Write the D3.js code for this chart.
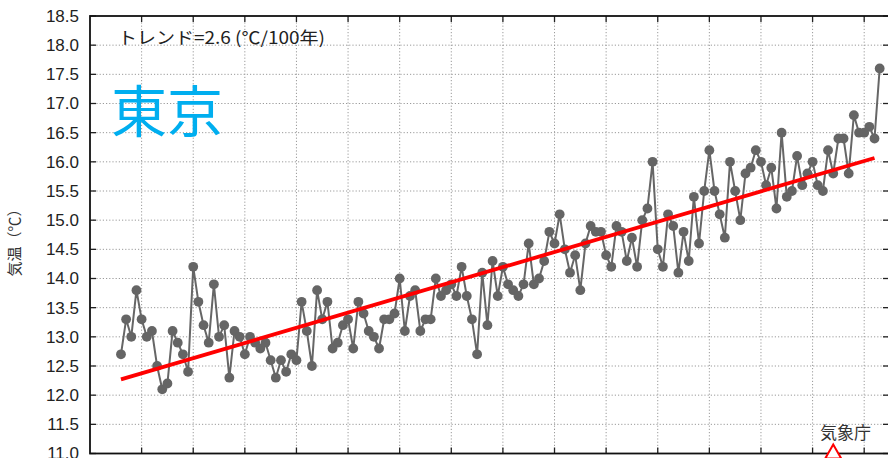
<!DOCTYPE html>
<html>
<head>
<meta charset="utf-8">
<script src="https://cdn.jsdelivr.net/npm/d3@7"></script>
<style>
  html, body { margin: 0; padding: 0; background: #fff; overflow: hidden; }
  svg { display: block; }
</style>
</head>
<body>
<svg id="chart" width="888" height="458"></svg>
<script>
// Tokyo annual mean temperature (°C), one value per year starting at firstYear
const firstYear = 1876;
const temps = [
  12.7, 13.3, 13.0, 13.8, 13.3, 13.0, 13.1, 12.5, 12.1, 12.2, // 1876-1885
  13.1, 12.9, 12.7, 12.4, 14.2, 13.6, 13.2, 12.9, 13.9, 13.0, // 1886-1895
  13.2, 12.3, 13.1, 13.0, 12.7, 13.0, 12.9, 12.8, 12.9, 12.6, // 1896-1905
  12.3, 12.6, 12.4, 12.7, 12.6, 13.6, 13.1, 12.5, 13.8, 13.3, // 1906-1915
  13.6, 12.8, 12.9, 13.2, 13.3, 12.8, 13.6, 13.4, 13.1, 13.0, // 1916-1925
  12.8, 13.3, 13.3, 13.4, 14.0, 13.1, 13.7, 13.8, 13.1, 13.3, // 1926-1935
  13.3, 14.0, 13.7, 13.8, 13.9, 13.7, 14.2, 13.7, 13.3, 12.7, // 1936-1945
  14.1, 13.2, 14.3, 13.7, 14.2, 13.9, 13.8, 13.7, 13.9, 14.6, // 1946-1955
  13.9, 14.0, 14.3, 14.8, 14.6, 15.1, 14.5, 14.1, 14.4, 13.8, // 1956-1965
  14.6, 14.9, 14.8, 14.8, 14.4, 14.2, 14.9, 14.8, 14.3, 14.7, // 1966-1975
  14.2, 15.0, 15.2, 16.0, 14.5, 14.2, 15.1, 14.9, 14.1, 14.8, // 1976-1985
  14.3, 15.4, 14.6, 15.5, 16.2, 15.5, 15.1, 14.7, 16.0, 15.5, // 1986-1995
  15.0, 15.8, 15.9, 16.2, 16.0, 15.6, 15.9, 15.2, 16.5, 15.4, // 1996-2005
  15.5, 16.1, 15.6, 15.8, 16.0, 15.6, 15.5, 16.2, 15.8, 16.4, // 2006-2015
  16.4, 15.8, 16.8, 16.5, 16.5, 16.6, 16.4, 17.6              // 2016-2023
];

// Axis ticks
const yTicks = [11.0, 11.5, 12.0, 12.5, 13.0, 13.5, 14.0, 14.5, 15.0, 15.5, 16.0, 16.5, 17.0, 17.5, 18.0, 18.5];
const gridYears = [1880, 1890, 1900, 1910, 1920, 1930, 1940, 1950, 1960, 1970, 1980, 1990, 2000, 2010, 2020];

// Long-term trend: rate per 100 years, fitted value at the first year, span of the fit
const trendRate = 2.6;
const trendStartValue = 12.27;
const trendSpan = [1876, 2022];

// Year the observing site was moved
const relocationYear = 2014;

const stationName = "東京";
const trendLabel = "トレンド=2.6 (℃/100年)";
const yTitle = "気温（℃）";
const sourceLabel = "気象庁";

const series = temps.map((t, i) => ({ year: firstYear + i, value: t }));

const svg = d3.select("#chart");

const x = d3.scaleLinear().domain([1870, 2025]).range([90, 890]);
const y = d3.scaleLinear().domain([11.0, 18.5]).range([453.5, 16]);

const [x0, x1] = x.range();
const [yb, yt] = y.range();

// Dotted grid
const grid = svg.append("g")
  .attr("stroke", "#9a9a9a")
  .attr("stroke-width", 1)
  .attr("stroke-dasharray", "1.2 2");
grid.selectAll("line.h")
  .data(yTicks.filter(v => v > 11.0 && v < 18.5))
  .join("line")
  .attr("class", "h")
  .attr("x1", x0).attr("x2", x1)
  .attr("y1", d => y(d)).attr("y2", d => y(d));
grid.selectAll("line.v")
  .data(gridYears)
  .join("line")
  .attr("class", "v")
  .attr("y1", yt).attr("y2", yb)
  .attr("x1", d => x(d)).attr("x2", d => x(d));

// Y tick labels
const yAxis = svg.append("g")
  .attr("transform", `translate(${x0},0)`)
  .call(d3.axisLeft(y).tickValues(yTicks).tickFormat(d3.format(".1f")).tickSize(0).tickPadding(11));
yAxis.select(".domain").remove();
yAxis.selectAll("text")
  .attr("font-family", "'Liberation Sans', Arial, sans-serif")
  .attr("font-size", 17)
  .attr("fill", "#222");

// Inward tick marks on all four sides
const ticks = svg.append("g").attr("stroke", "#222").attr("stroke-width", 1.3);
ticks.selectAll("line.l").data(yTicks).join("line").attr("class", "l")
  .attr("x1", x0).attr("x2", x0 + 6).attr("y1", d => y(d)).attr("y2", d => y(d));
ticks.selectAll("line.r").data(yTicks).join("line").attr("class", "r")
  .attr("x1", x1 - 7).attr("x2", x1).attr("y1", d => y(d)).attr("y2", d => y(d));
ticks.selectAll("line.b").data(gridYears).join("line").attr("class", "b")
  .attr("x1", d => x(d)).attr("x2", d => x(d)).attr("y1", yb).attr("y2", yb - 6);
ticks.selectAll("line.t").data(gridYears).join("line").attr("class", "t")
  .attr("x1", d => x(d)).attr("x2", d => x(d)).attr("y1", yt).attr("y2", yt + 6);

// Plot frame
svg.append("rect")
  .attr("x", x0).attr("y", yt)
  .attr("width", x1 - x0).attr("height", yb - yt)
  .attr("fill", "none")
  .attr("stroke", "#111")
  .attr("stroke-width", 1.8);

// Annual series
const line = d3.line().x(d => x(d.year)).y(d => y(d.value));
svg.append("path")
  .datum(series)
  .attr("d", line)
  .attr("fill", "none")
  .attr("stroke", "#666")
  .attr("stroke-width", 2);
svg.append("g")
  .selectAll("circle")
  .data(series)
  .join("circle")
  .attr("cx", d => x(d.year))
  .attr("cy", d => y(d.value))
  .attr("r", 4.9)
  .attr("fill", "#656565");

// Trend line
const trendPts = trendSpan.map(yr => ({
  year: yr,
  value: trendStartValue + (yr - trendSpan[0]) * trendRate / 100
}));
svg.append("path")
  .datum(trendPts)
  .attr("d", line)
  .attr("fill", "none")
  .attr("stroke", "#ff0000")
  .attr("stroke-width", 3.8);

// Trend annotation
svg.append("text")
  .attr("x", 118).attr("y", 44)
  .attr("font-family", "'Noto Sans CJK JP', sans-serif")
  .attr("font-size", 17)
  .attr("fill", "#222")
  .attr("textLength", 207)
  .attr("lengthAdjust", "spacingAndGlyphs")
  .text(trendLabel);

// Station name
svg.append("text")
  .attr("x", 111).attr("y", 132)
  .attr("font-family", "'Noto Sans CJK JP', sans-serif")
  .attr("font-size", 56)
  .attr("fill", "#00aeef")
  .text(stationName);

// Y axis title
svg.append("text")
  .attr("transform", "translate(20,239) rotate(-90)")
  .attr("text-anchor", "middle")
  .attr("font-family", "'Noto Sans CJK JP', sans-serif")
  .attr("font-size", 15)
  .attr("fill", "#333")
  .text(yTitle);

// Source and site-relocation marker
svg.append("text")
  .attr("x", 820).attr("y", 439)
  .attr("font-family", "'Noto Sans CJK JP', sans-serif")
  .attr("font-size", 17)
  .attr("fill", "#333")
  .text(sourceLabel);

const mx = x(relocationYear);
svg.append("path")
  .attr("d", d3.line()([[mx, 444.5], [mx + 8, 458.5], [mx - 8, 458.5]]) + "Z")
  .attr("fill", "#fff")
  .attr("stroke", "#ff0000")
  .attr("stroke-width", 2);
</script>
</body>
</html>
